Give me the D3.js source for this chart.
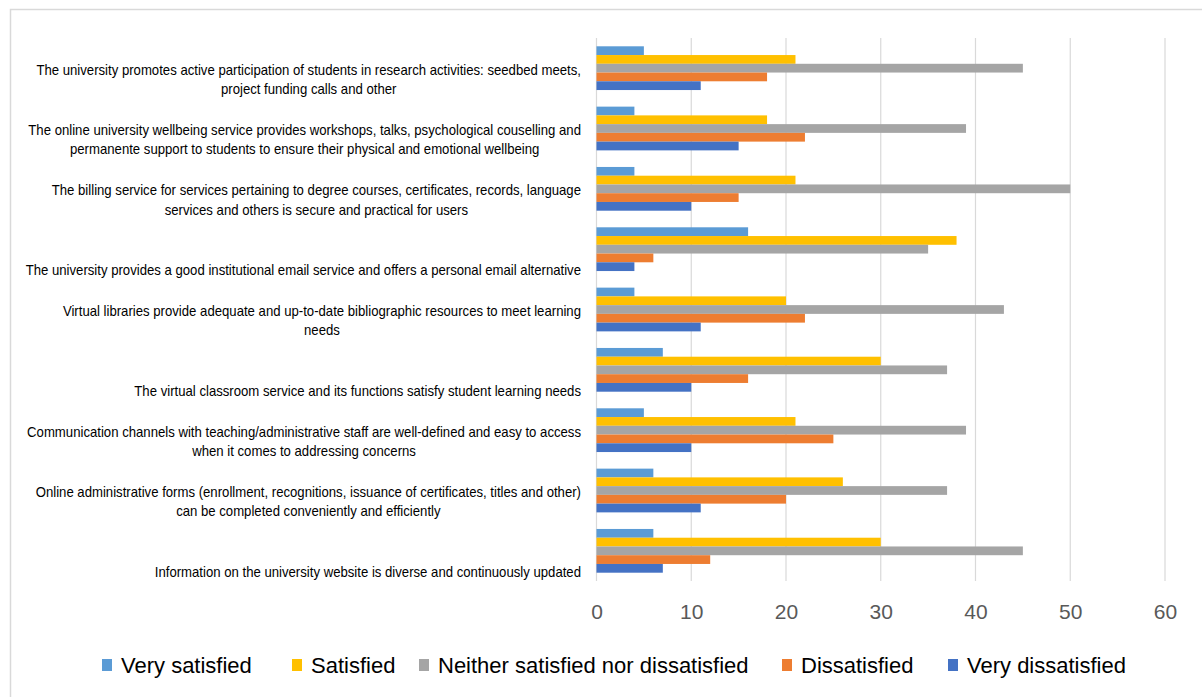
<!DOCTYPE html>
<html>
<head>
<meta charset="utf-8">
<script src="https://cdn.jsdelivr.net/npm/d3@7"></script>
<style>
  html, body { margin: 0; padding: 0; background: #fff; }
  svg { display: block; }
</style>
</head>
<body>
<svg id="chart" width="1202" height="697"></svg>
<script>
// Survey items, top to bottom; an empty first line keeps single-line items aligned like the wrapped ones
const categories = [
  ["The university promotes active participation of students in research activities: seedbed meets,", "project funding calls and other"],
  ["The online university wellbeing service provides workshops, talks, psychological couselling and", "permanente support to students to ensure their physical and emotional wellbeing"],
  ["The billing service for services pertaining to degree courses, certificates, records, language", "services and others is secure and practical for users"],
  ["", "The university provides a good institutional email service and offers a personal email alternative"],
  ["Virtual libraries provide adequate and up-to-date bibliographic resources  to meet learning", "needs"],
  ["", "The virtual classroom service and its functions satisfy student learning needs"],
  ["Communication channels with teaching/administrative staff are well-defined and easy to access", "when it comes to addressing concerns"],
  ["Online administrative forms (enrollment, recognitions, issuance of certificates, titles and other)", "can be completed conveniently and efficiently"],
  ["", "Information on the university website is diverse and continuously updated"]
];

const seriesNames = ["Very satisfied", "Satisfied", "Neither satisfied nor dissatisfied", "Dissatisfied", "Very dissatisfied"];
const seriesColors = ["#5B9BD5", "#FFC000", "#A5A5A5", "#ED7D31", "#4472C4"];

// Responses per item (same order as categories)
const verySatisfied    = [5, 4, 4, 16, 4, 7, 5, 6, 6];
const satisfied        = [21, 18, 21, 38, 20, 30, 21, 26, 30];
const neither          = [45, 39, 50, 35, 43, 37, 39, 37, 45];
const dissatisfied     = [18, 22, 15, 6, 22, 16, 25, 20, 12];
const veryDissatisfied = [11, 15, 10, 4, 11, 10, 10, 11, 7];

const xTicks = [0, 10, 20, 30, 40, 50, 60];

const seriesValues = [verySatisfied, satisfied, neither, dissatisfied, veryDissatisfied];

const svg = d3.select("#chart");

// Chart frame (top and left edges)
svg.append("path")
  .attr("d", "M10.5,697 L10.5,9.5 L1202,9.5")
  .attr("fill", "none")
  .attr("stroke", "#d9d9d9")
  .attr("stroke-width", 1.5);

const plot = { left: 596.5, right: 1165, top: 38, bottom: 581 };

const x = d3.scaleLinear().domain([0, 60]).range([plot.left, plot.right]);
const y = d3.scaleBand()
  .domain(d3.range(categories.length))
  .range([plot.top, plot.bottom])
  .paddingInner(0.275)
  .paddingOuter(0.1375);
const ySub = d3.scaleBand()
  .domain(d3.range(seriesNames.length))
  .range([0, y.bandwidth()]);

// Vertical gridlines
svg.append("g")
  .selectAll("line")
  .data(xTicks)
  .join("line")
  .attr("x1", d => x(d)).attr("x2", d => x(d))
  .attr("y1", plot.top).attr("y2", plot.bottom)
  .attr("stroke", "#d9d9d9")
  .attr("stroke-width", 1.2);

// Bars
const groups = svg.append("g")
  .selectAll("g")
  .data(categories.map((c, i) => i))
  .join("g")
  .attr("transform", i => `translate(0,${y(i)})`);

groups.selectAll("rect")
  .data(i => seriesValues.map((vals, s) => ({ s, v: vals[i] })))
  .join("rect")
  .attr("x", x(0))
  .attr("y", d => ySub(d.s))
  .attr("width", d => x(d.v) - x(0))
  .attr("height", ySub.bandwidth())
  .attr("fill", d => seriesColors[d.s]);

// X axis tick labels
const xAxis = d3.axisBottom(x).tickValues(xTicks).tickSize(0).tickPadding(0);
const xg = svg.append("g")
  .attr("transform", `translate(0,${plot.bottom})`)
  .call(xAxis);
xg.select(".domain").remove();
xg.selectAll("text")
  .attr("dy", null)
  .attr("y", 38)
  .attr("font-family", "Liberation Sans, Arial, sans-serif")
  .attr("font-size", 21)
  .attr("fill", "#595959");

// Category labels: centred lines in a slightly condensed face, block right-aligned to the axis
const labelRight = 581;
const lineGap = 19.5;
const condense = 0.94;
const labelLayer = svg.append("g")
  .attr("font-family", "Liberation Sans, Arial, sans-serif")
  .attr("font-size", 14)
  .attr("fill", "#000");

categories.forEach((lines, i) => {
  const cy = y(i) + y.bandwidth() / 2;
  const g = labelLayer.append("g")
    .attr("transform", `translate(${labelRight},0) scale(${condense},1)`);
  const texts = lines.map((line, k) =>
    g.append("text")
      .attr("text-anchor", "middle")
      .attr("y", cy + 1.5 + k * lineGap)
      .attr("dy", "0.35em")
      .text(line)
  );
  const w = d3.max(texts, t => t.node().getComputedTextLength());
  texts.forEach(t => t.attr("x", -w / 2));
});

// Legend
const legendItems = [
  { x: 102, textX: 121 },
  { x: 292, textX: 311 },
  { x: 419, textX: 438 },
  { x: 782, textX: 801 },
  { x: 948, textX: 967 }
];
const legend = svg.append("g")
  .attr("font-family", "Liberation Sans, Arial, sans-serif")
  .attr("font-size", 22)
  .attr("fill", "#000");
seriesNames.forEach((name, s) => {
  legend.append("rect")
    .attr("x", legendItems[s].x)
    .attr("y", 659)
    .attr("width", 10)
    .attr("height", 12)
    .attr("fill", seriesColors[s]);
  legend.append("text")
    .attr("x", legendItems[s].textX)
    .attr("y", 665)
    .attr("dy", "0.35em")
    .text(name);
});
</script>
</body>
</html>
